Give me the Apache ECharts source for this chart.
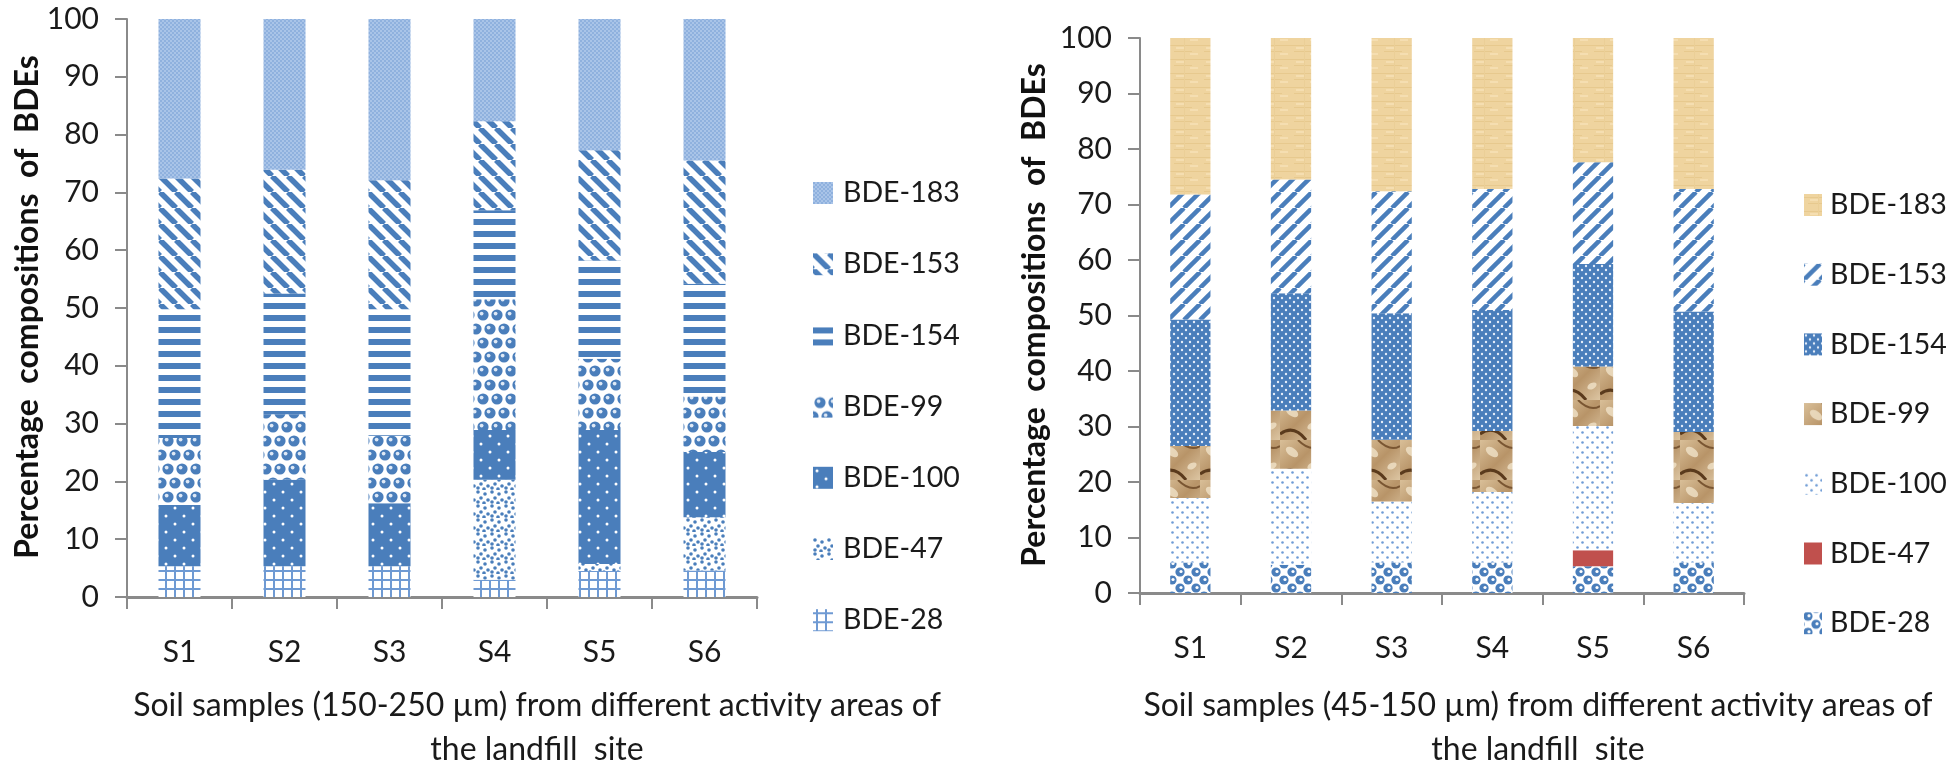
<!DOCTYPE html>
<html>
<head>
<meta charset="utf-8">
<script src="https://cdn.jsdelivr.net/npm/echarts@6/dist/echarts.min.js"></script>
<style>
html,body{margin:0;padding:0;background:#fff;}
#main{width:1946px;height:771px;}
</style>
</head>
<body>
<div id="main"></div>
<script>
// ---------- DATA ----------
var categories = ['S1', 'S2', 'S3', 'S4', 'S5', 'S6'];
var seriesNames = ['BDE-28', 'BDE-47', 'BDE-100', 'BDE-99', 'BDE-154', 'BDE-153', 'BDE-183'];
var legendOrder = ['BDE-183', 'BDE-153', 'BDE-154', 'BDE-99', 'BDE-100', 'BDE-47', 'BDE-28'];
var yTicks = [0, 10, 20, 30, 40, 50, 60, 70, 80, 90, 100];

// Left chart: 150-250 um (percent per congener, bottom to top)
var left_BDE28  = [5.3, 5.3, 5.3, 3.0, 4.5, 4.6];
var left_BDE47  = [0, 0, 0, 17.3, 1.2, 9.2];
var left_BDE100 = [10.6, 15.0, 10.9, 8.6, 23.2, 11.3];
var left_BDE99  = [11.6, 11.3, 11.7, 22.6, 12.3, 9.6];
var left_BDE154 = [22.3, 20.9, 21.9, 15.4, 17.0, 19.5];
var left_BDE153 = [22.6, 21.4, 22.3, 15.4, 19.1, 21.3];
var left_BDE183 = [27.6, 26.1, 27.9, 17.7, 22.7, 24.5];

// Right chart: 45-150 um
var right_BDE28  = [5.5, 5.1, 5.5, 5.5, 4.8, 5.5];
var right_BDE47  = [0, 0, 0, 0, 2.9, 0];
var right_BDE100 = [11.6, 17.3, 11.0, 12.7, 22.4, 10.7];
var right_BDE99  = [9.4, 10.5, 11.1, 11.0, 10.7, 12.8];
var right_BDE154 = [22.8, 21.1, 22.8, 21.8, 18.5, 21.7];
var right_BDE153 = [22.5, 20.5, 22.0, 21.8, 18.3, 22.1];
var right_BDE183 = [28.2, 25.5, 27.6, 27.2, 22.4, 27.2];

var leftTitle = 'Soil samples (150-250\u202F\u00B5m) from different activity areas of\nthe landfill  site';
var rightTitle = 'Soil samples (45-150\u202F\u00B5m) from different activity areas of\nthe landfill  site';
var yTitle = 'Percentage  compositions  of  BDEs';

// ---------- PATTERNS ----------
function mk(w, h, draw) {
  var c = document.createElement('canvas');
  c.width = w; c.height = h;
  var g = c.getContext('2d');
  draw(g, w, h);
  return { image: c, repeat: 'repeat' };
}
var BLUE = '#4a7ebb';
function bg(g, w, h, col) { g.fillStyle = col; g.fillRect(0, 0, w, h); }
function dot(g, x, y, r, col) { g.fillStyle = col; g.beginPath(); g.arc(x, y, r, 0, Math.PI * 2); g.fill(); }

var P = {};
P.L183 = mk(4, 4, function (g, w, h) {
  bg(g, w, h, '#a9c4e8');
  g.fillStyle = '#8fb1de'; g.fillRect(0, 0, 2, 2); g.fillRect(2, 2, 2, 2);
});
P.L153 = mk(16, 16, function (g, w, h) {
  bg(g, w, h, '#fff');
  g.strokeStyle = BLUE; g.lineWidth = 5.5;
  for (var o = -16; o <= 16; o += 16) { g.beginPath(); g.moveTo(o, 0); g.lineTo(o + 16, 16); g.stroke(); }
});
P.L154 = mk(8, 12, function (g, w, h) {
  bg(g, w, h, '#fff');
  g.fillStyle = BLUE; g.fillRect(0, 3, w, 6);
});
P.L99 = mk(28, 28, function (g, w, h) {
  bg(g, w, h, '#fff');
  var pts = [[7, 7], [21, 7], [0, 21], [14, 21], [28, 21], [7, 35], [21, 35], [7, -7], [21, -7]];
  pts.forEach(function (p) {
    dot(g, p[0], p[1], 5.6, BLUE);
    dot(g, p[0] - 1.4, p[1] - 1.4, 1.9, '#dfe9f6');
  });
});
P.L100 = mk(18, 16, function (g, w, h) {
  bg(g, w, h, BLUE);
  dot(g, 4, 4, 1.5, '#ffffff'); dot(g, 13, 12, 1.5, '#ffffff');
});
P.L47 = mk(14, 14, function (g, w, h) {
  bg(g, w, h, '#fff');
  var pts = [[2, 2], [9, 4], [5, 8], [12, 10], [2, 12], [8, 13]];
  pts.forEach(function (p) { dot(g, p[0], p[1], 1.8, BLUE); });
});
P.L28 = mk(9, 9, function (g, w, h) {
  bg(g, w, h, '#fff');
  g.fillStyle = '#6f9ad3'; g.fillRect(3, 0, 2, h); g.fillRect(0, 3, w, 2);
});

P.R183 = mk(30, 14, function (g, w, h) {
  bg(g, w, h, '#efd49f');
  g.fillStyle = '#e7c98e'; g.fillRect(0, 3, 30, 1); g.fillRect(4, 9, 18, 1);
  g.fillStyle = '#f5deb1'; g.fillRect(6, 5, 9, 2); g.fillRect(20, 11, 8, 2);
  g.fillStyle = '#ebcf97'; g.fillRect(14, 0, 1, 14);
});
P.R153 = mk(16, 16, function (g, w, h) {
  bg(g, w, h, '#fff');
  g.strokeStyle = BLUE; g.lineWidth = 4.5;
  for (var o = -16; o <= 16; o += 16) { g.beginPath(); g.moveTo(o, 16); g.lineTo(o + 16, 0); g.stroke(); }
});
P.R154 = mk(8, 8, function (g, w, h) {
  bg(g, w, h, BLUE);
  dot(g, 2, 2, 1.2, '#e6eef9'); dot(g, 6, 6, 1.2, '#e6eef9');
});
P.R99 = mk(40, 40, function (g, w, h) {
  var grd = g.createLinearGradient(0, 0, w, h);
  grd.addColorStop(0, '#d9bf98'); grd.addColorStop(0.5, '#b89468'); grd.addColorStop(1, '#dcc5a2');
  g.fillStyle = grd; g.fillRect(0, 0, w, h);
  g.strokeStyle = '#5a3a1c'; g.lineWidth = 3;
  g.beginPath(); g.moveTo(0, 34); g.quadraticCurveTo(14, 24, 26, 40); g.stroke();
  g.lineWidth = 2; g.strokeStyle = '#7a5632';
  g.beginPath(); g.moveTo(18, 0); g.quadraticCurveTo(30, 12, 40, 6); g.stroke();
  g.fillStyle = 'rgba(240,226,200,0.8)';
  g.beginPath(); g.ellipse(12, 12, 7, 4, 0.6, 0, Math.PI * 2); g.fill();
  g.beginPath(); g.ellipse(32, 26, 5, 3, -0.5, 0, Math.PI * 2); g.fill();
});
P.R100 = mk(10, 10, function (g, w, h) {
  bg(g, w, h, '#fff');
  dot(g, 2.5, 2.5, 1.3, '#6e9bd6'); dot(g, 7.5, 7.5, 1.3, '#6e9bd6');
});
P.R47 = '#c0504d';
P.R28 = mk(16, 16, function (g, w, h) {
  bg(g, w, h, '#fff');
  var pts = [[4, 4], [12, 12], [12, -4], [-4, 12], [20, 4], [4, 20]];
  pts.forEach(function (p) {
    dot(g, p[0], p[1], 4.6, BLUE);
    dot(g, p[0] + 1, p[1] - 0.5, 1.6, '#ffffff');
  });
});

// ---------- CHART ----------
var FONT = 'Lato, "Open Sans", sans-serif';
var chart = echarts.init(document.getElementById('main'));

var leftData = [left_BDE28, left_BDE47, left_BDE100, left_BDE99, left_BDE154, left_BDE153, left_BDE183];
var rightData = [right_BDE28, right_BDE47, right_BDE100, right_BDE99, right_BDE154, right_BDE153, right_BDE183];
var leftPat = [P.L28, P.L47, P.L100, P.L99, P.L154, P.L153, P.L183];
var rightPat = [P.R28, P.R47, P.R100, P.R99, P.R154, P.R153, P.R183];

var series = [];
seriesNames.forEach(function (n, i) {
  series.push({
    name: n, type: 'bar', stack: 'L', xAxisIndex: 0, yAxisIndex: 0,
    barWidth: '40%', itemStyle: { color: leftPat[i] }, data: leftData[i]
  });
});
seriesNames.forEach(function (n, i) {
  series.push({
    name: n + ' ', type: 'bar', stack: 'R', xAxisIndex: 1, yAxisIndex: 1,
    barWidth: '40%', itemStyle: { color: rightPat[i] }, data: rightData[i]
  });
});

function xAxisCfg(gi) {
  return {
    type: 'category', gridIndex: gi, data: categories,
    axisLine: { lineStyle: { color: '#8a8a8a', width: 3 } },
    axisTick: { show: true, length: 12, lineStyle: { color: '#8a8a8a', width: 2 } },
    axisLabel: { color: '#1a1a1a', fontSize: 30, fontFamily: FONT, margin: 40 }
  };
}
function yAxisCfg(gi) {
  return {
    type: 'value', gridIndex: gi, min: yTicks[0], max: yTicks[yTicks.length - 1], interval: 10,
    axisLine: { show: true, lineStyle: { color: '#8a8a8a', width: 2 } },
    axisTick: { show: true, length: 12, lineStyle: { color: '#8a8a8a', width: 2 } },
    splitLine: { show: false },
    axisLabel: { color: '#1a1a1a', fontSize: 30, fontFamily: FONT, margin: 28 }
  };
}
function legendText(size) {
  return { fontSize: size, fontFamily: FONT, color: '#1a1a1a', lineHeight: 30 };
}

chart.setOption({
  backgroundColor: '#ffffff',
  animation: false,
  grid: [
    { left: 127, top: 19, width: 630, height: 578 },
    { left: 1140, top: 38, width: 604, height: 555 }
  ],
  xAxis: [xAxisCfg(0), xAxisCfg(1)],
  yAxis: [yAxisCfg(0), yAxisCfg(1)],
  legend: [
    {
      orient: 'vertical', left: 808, top: 173, itemWidth: 20, itemHeight: 22, itemGap: 41.2,
      icon: 'rect', data: legendOrder,
      textStyle: Object.assign(legendText(28.5), { padding: [0, 0, 0, 5] })
    },
    {
      orient: 'vertical', left: 1799, top: 185, itemWidth: 18, itemHeight: 22, itemGap: 39.7,
      icon: 'rect', data: legendOrder.map(function (n) { return n + ' '; }),
      textStyle: Object.assign(legendText(28.5), { padding: [0, 0, 0, 3] })
    }
  ],
  graphic: [
    { type: 'text', x: 537, y: 728, style: { text: leftTitle, textAlign: 'center', textVerticalAlign: 'middle', fontSize: 32, lineHeight: 44, fontFamily: FONT, fill: '#1a1a1a' } },
    { type: 'text', x: 1538, y: 728, style: { text: rightTitle, textAlign: 'center', textVerticalAlign: 'middle', fontSize: 32, lineHeight: 44, fontFamily: FONT, fill: '#1a1a1a' } },
    { type: 'text', x: 28, y: 307, rotation: Math.PI / 2, style: { text: yTitle, textAlign: 'center', textVerticalAlign: 'middle', fontSize: 32, fontWeight: 'bold', fontFamily: FONT, fill: '#111' } },
    { type: 'text', x: 1035, y: 315, rotation: Math.PI / 2, style: { text: yTitle, textAlign: 'center', textVerticalAlign: 'middle', fontSize: 32, fontWeight: 'bold', fontFamily: FONT, fill: '#111' } }
  ],
  series: series
});
</script>
</body>
</html>
